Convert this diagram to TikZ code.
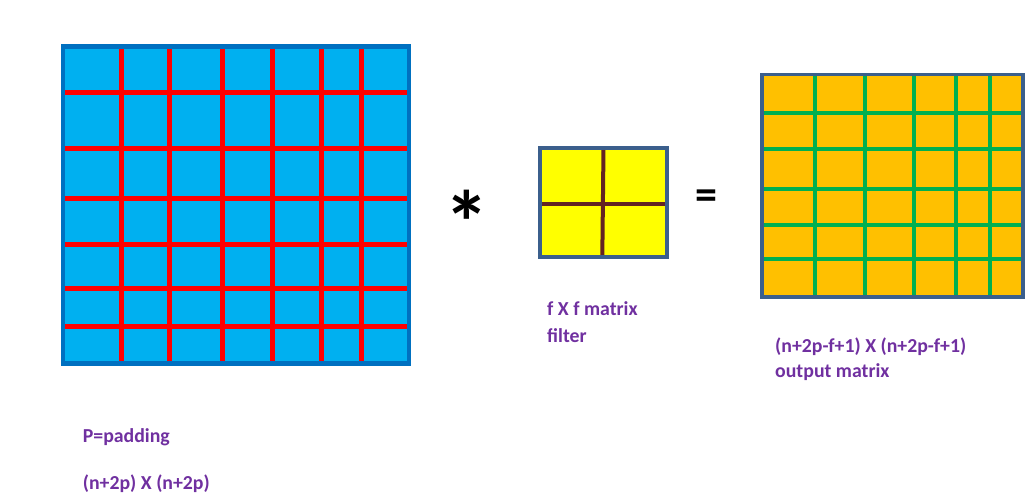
\documentclass[tikz,border=0pt]{standalone}
\usepackage{fontspec}
\setmainfont{Carlito}
\definecolor{bluefill}{HTML}{00B0F0}
\definecolor{blueline}{HTML}{0070C0}
\definecolor{slate}{HTML}{3B5F8C}
\definecolor{yel}{HTML}{FFFF00}
\definecolor{brownline}{HTML}{632423}
\definecolor{orng}{HTML}{FFC000}
\definecolor{grn}{HTML}{00B050}
\definecolor{purp}{HTML}{7030A0}
\begin{document}
\begin{tikzpicture}[x=1pt,y=-1pt,
  lbl/.style={anchor=base west,inner sep=0pt,text=purp,font=\bfseries\fontsize{19.8}{22}\selectfont},
  box/.style={inner sep=0pt,outer sep=0pt,anchor=north west},
  redln/.style={red,line width=5pt},
  grnln/.style={grn,line width=4pt},
  brnln/.style={brownline,line width=4pt}]
\useasboundingbox (0,0) rectangle (1035,499);
% input matrix
\fill[bluefill] (63,46.5) rectangle (409,363.5);
\foreach \x in {121,169,222,272,321,361} \draw[redln] (\x,46) -- (\x,364);
\foreach \y in {92,148,198,244,288,326} \draw[redln] (63,\y) -- (409,\y);
\node[box,draw=blueline,line width=4.4pt,minimum width=346pt,minimum height=317pt] (inp) at (63,46.5) {};
% filter
\fill[yel] (539.5,148) rectangle (666.5,257);
\draw[brnln] (603.5,148) -- (602.3,257);
\draw[brnln] (539.5,203.5) -- (666.5,203.5);
\node[box,draw=slate,line width=4pt,minimum width=127pt,minimum height=109pt] (filt) at (539.5,148) {};
% output matrix
\fill[orng] (761.8,74.5) rectangle (1023.2,297);
\foreach \x in {815,865,914,956,990} \draw[grnln] (\x,74.5) -- (\x,297);
\foreach \y in {113,149,189,225,259} \draw[grnln] (761.8,\y) -- (1023.2,\y);
\node[box,draw=slate,line width=3.5pt,minimum width=261.4pt,minimum height=222.5pt] (outp) at (761.8,74.5) {};
% operators
\node[inner sep=0pt,anchor=base,font=\bfseries\fontsize{90}{90}\selectfont] (star) at (467,254) {*};
\node[inner sep=0pt,font=\bfseries\fontsize{44}{48}\selectfont] (eq) at (706,200) {=};
% labels
\node[lbl] (f1) at (547,315) {f X f matrix};
\node[lbl] (f2) at (547,342.5) {filter};
\node[lbl] (o1) at (775,352.5) {(n+2p-f+1) X (n+2p-f+1)};
\node[lbl] (o2) at (775,377.7) {output matrix};
\node[lbl] (p1) at (82.7,442.7) {P=padding};
\node[lbl] (p2) at (82.7,489) {(n+2p) X (n+2p)};
\end{tikzpicture}
\end{document}
